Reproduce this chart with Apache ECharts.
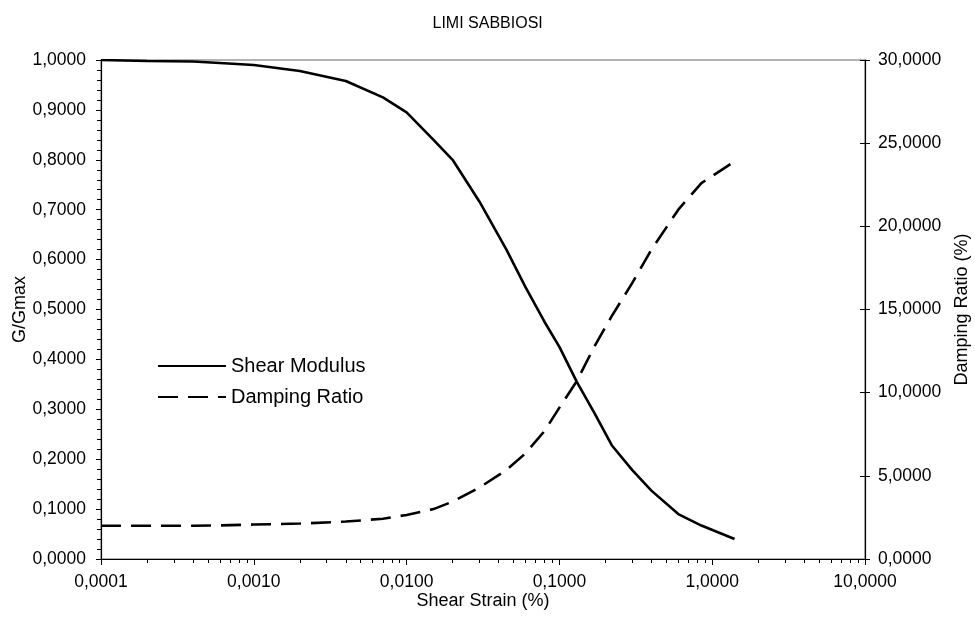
<!DOCTYPE html>
<html>
<head>
<meta charset="utf-8">
<script src="https://cdn.jsdelivr.net/npm/echarts@6/dist/echarts.min.js"></script>
<style>
  html, body { margin: 0; padding: 0; background: #fff; }
  #chart { width: 975px; height: 639px; }
</style>
</head>
<body>
<div id="chart"></div>
<script>
// deformazione di taglio (%), asse logaritmico
const strain = [0.0001, 0.0002, 0.0004, 0.0006, 0.001, 0.002, 0.004, 0.007, 0.01, 0.015,
    0.02, 0.03, 0.045, 0.06, 0.08, 0.1, 0.13, 0.17, 0.22, 0.3, 0.4, 0.6, 0.85, 1.4]
// G/Gmax
const shearModulus = [1.0, 0.998, 0.997, 0.994, 0.99, 0.978, 0.958, 0.925, 0.895, 0.84,
    0.80, 0.716, 0.62, 0.545, 0.475, 0.425, 0.355, 0.292, 0.228, 0.178, 0.137, 0.09, 0.067, 0.04]
// rapporto di smorzamento (%)
const dampingRatio = [2.0, 2.0, 2.0, 2.02, 2.07, 2.13, 2.25, 2.42, 2.65, 3.0,
    3.45, 4.3, 5.35, 6.35, 7.7, 9.1, 10.7, 12.8, 14.6, 16.6, 18.6, 21.0, 22.6, 23.9]

const xMin = 0.0001
const xMax = 10

// tacche minori 2..9 per ogni decade
const minorTicks = []
for (let d = xMin; d < xMax; d *= 10) {
    for (let k = 2; k <= 9; k++) {
        minorTicks.push(+(d * k).toPrecision(6))
    }
}

function fmt (v) {
    return Number(v).toFixed(4).replace('.', ',')
}

function pairs (xs, ys) {
    const out = []
    for (let i = 0; i < xs.length; i++) {
        out.push([xs[i], ys[i]])
    }
    return out
}

const font = 'Liberation Sans, Arial, sans-serif'
const chart = echarts.init(document.getElementById('chart'))

const option = {
    animation: false,
    textStyle: { fontFamily: font, color: '#000' },
    title: {
        text: 'LIMI SABBIOSI',
        left: '49.5%',
        textAlign: 'center',
        top: 11,
        textStyle: { fontSize: 16, fontWeight: 'normal', color: '#000', fontFamily: font }
    },
    grid: {
        left: 101,
        right: 110,
        top: 60,
        bottom: 80,
        outerBoundsMode: 'none',
        containLabel: false,
        show: true,
        borderColor: '#9a9a9a',
        borderWidth: 1.5
    },
    legend: {
        orient: 'vertical',
        left: 152,
        top: 351,
        itemWidth: 68,
        itemHeight: 14,
        itemGap: 11,
        itemStyle: { opacity: 0 },
        textStyle: { fontSize: 20, color: '#000', fontFamily: font },
        data: ['Shear Modulus', 'Damping Ratio']
    },
    xAxis: [
        {
            type: 'log',
            logBase: 10,
            min: xMin,
            max: xMax,
            position: 'bottom',
            name: 'Shear Strain (%)',
            nameLocation: 'middle',
            nameGap: 33,
            nameMoveOverlap: false,
            nameTextStyle: { fontSize: 18, color: '#000', fontFamily: font },
            axisLine: { lineStyle: { color: '#000', width: 1.2 } },
            axisTick: { length: 6, lineStyle: { color: '#000' } },
            axisLabel: { fontSize: 17.5, color: '#000', margin: 14, formatter: fmt },
            splitLine: { show: false },
            minorTick: { show: false }
        },
        {
            // solo tacche minori
            type: 'log',
            logBase: 10,
            min: xMin,
            max: xMax,
            position: 'bottom',
            axisLine: { show: false },
            axisTick: { show: true, length: 4, customValues: minorTicks, lineStyle: { color: '#000' } },
            axisLabel: { show: false },
            splitLine: { show: false }
        }
    ],
    yAxis: [
        {
            type: 'value',
            min: 0,
            max: 1,
            interval: 0.1,
            position: 'left',
            name: 'G/Gmax',
            nameLocation: 'middle',
            nameRotate: 90,
            nameGap: 72,
            nameMoveOverlap: false,
            nameTextStyle: { fontSize: 18, color: '#000', fontFamily: font },
            axisLine: { show: true, lineStyle: { color: '#000', width: 1.2 } },
            axisTick: { show: true, length: 5, lineStyle: { color: '#000' } },
            minorTick: { show: true, splitNumber: 5, length: 4, lineStyle: { color: '#000' } },
            axisLabel: { fontSize: 17.5, color: '#000', margin: 15, formatter: fmt },
            splitLine: { show: false }
        },
        {
            type: 'value',
            min: 0,
            max: 30,
            interval: 5,
            position: 'right',
            name: 'Damping Ratio (%)',
            nameLocation: 'middle',
            nameRotate: 90,
            nameGap: 88,
            nameMoveOverlap: false,
            nameTextStyle: { fontSize: 18, color: '#000', fontFamily: font },
            axisLine: { show: true, lineStyle: { color: '#000', width: 1.2 } },
            axisTick: { show: true, length: 5, lineStyle: { color: '#000' } },
            axisLabel: { fontSize: 17.5, color: '#000', margin: 13, formatter: fmt },
            splitLine: { show: false }
        },
        {
            // tacche interne per l'asse destro (a croce)
            type: 'value',
            min: 0,
            max: 30,
            interval: 5,
            position: 'right',
            axisLine: { show: false },
            axisTick: { show: true, inside: true, length: 5, lineStyle: { color: '#000' } },
            axisLabel: { show: false },
            splitLine: { show: false }
        }
    ],
    series: [
        {
            name: 'Shear Modulus',
            type: 'line',
            xAxisIndex: 0,
            yAxisIndex: 0,
            symbol: 'none',
            data: pairs(strain, shearModulus),
            lineStyle: { color: '#000', width: 2.6, type: 'solid' },
            itemStyle: { color: '#000' }
        },
        {
            name: 'Damping Ratio',
            type: 'line',
            xAxisIndex: 0,
            yAxisIndex: 1,
            symbol: 'none',
            data: pairs(strain, dampingRatio),
            lineStyle: { color: '#000', width: 2.6, type: [20, 10] },
            itemStyle: { color: '#000' }
        }
    ]
}

chart.setOption(option)
</script>
</body>
</html>
